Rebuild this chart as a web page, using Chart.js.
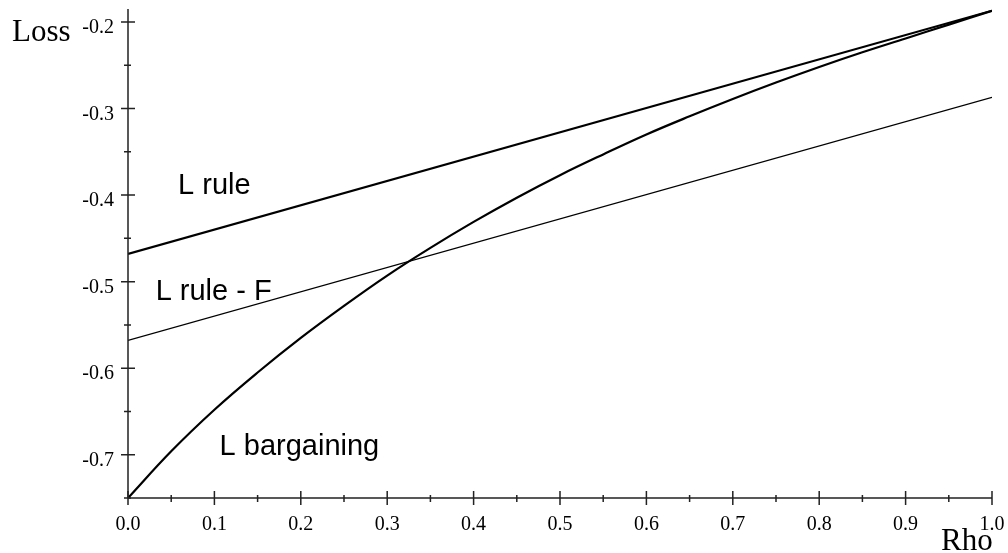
<!DOCTYPE html>
<html>
<head>
<meta charset="utf-8">
<script src="https://cdn.jsdelivr.net/npm/chart.js@4/dist/chart.umd.min.js"></script>
<style>
  html, body { margin: 0; padding: 0; background: #fff; }
  #wrap { width: 1008px; height: 553px; }
</style>
</head>
<body>
<div id="wrap"><canvas id="lossChart" width="1008" height="553"></canvas></div>
<script>
// data
var rho = [0, 0.05, 0.1, 0.15, 0.2, 0.25, 0.3, 0.35, 0.4, 0.45, 0.5,
           0.55, 0.6, 0.65, 0.7, 0.75, 0.8, 0.85, 0.9, 0.95, 1.0];
var lBargaining = [-0.750, -0.696, -0.648, -0.605, -0.565, -0.528, -0.493, -0.461, -0.431, -0.403, -0.377,
                   -0.353, -0.330, -0.309, -0.289, -0.270, -0.252, -0.235, -0.219, -0.203, -0.187];
var rhoEnds = [0, 1.0];
var lRule = [-0.468, -0.187];
var lRuleF = [-0.568, -0.287];

var xTicks = [0, 0.1, 0.2, 0.3, 0.4, 0.5, 0.6, 0.7, 0.8, 0.9, 1.0];
var xTickLabels = ['0.0', '0.1', '0.2', '0.3', '0.4', '0.5', '0.6', '0.7', '0.8', '0.9', '1.0'];
var yTicks = [-0.7, -0.6, -0.5, -0.4, -0.3, -0.2];
var yTickLabels = ['-0.7', '-0.6', '-0.5', '-0.4', '-0.3', '-0.2'];

var curveLabels = [
    { text: 'L rule', x: 0.058, y: -0.390 },
    { text: 'L rule - F', x: 0.032, y: -0.512 },
    { text: 'L bargaining', x: 0.106, y: -0.691 }
];

function toPoints(xs, ys) {
    return xs.map(function (x, i) { return { x: x, y: ys[i] }; });
}

// axes drawn the Maple way: line through the origin, ticks crossing it
var mapleAxes = {
    id: 'mapleAxes',
    afterDraw: function (chart) {
        var ctx = chart.ctx;
        var xs = chart.scales.x, ys = chart.scales.y;
        var x0 = xs.getPixelForValue(0);
        var y0 = ys.getPixelForValue(-0.75);
        ctx.save();
        ctx.strokeStyle = '#222';
        ctx.lineWidth = 1.5;

        ctx.beginPath();
        ctx.moveTo(x0, y0);
        ctx.lineTo(xs.getPixelForValue(1.0), y0);
        ctx.moveTo(x0, y0);
        ctx.lineTo(x0, ys.getPixelForValue(-0.185));
        ctx.stroke();

        // x ticks
        ctx.beginPath();
        xTicks.forEach(function (v) {
            var p = xs.getPixelForValue(v);
            ctx.moveTo(p, y0 - 7); ctx.lineTo(p, y0 + 7);
        });
        for (var i = 0; i < xTicks.length - 1; i++) {
            var p = xs.getPixelForValue((xTicks[i] + xTicks[i + 1]) / 2);
            ctx.moveTo(p, y0 - 3); ctx.lineTo(p, y0 + 4);
        }
        // y ticks
        yTicks.forEach(function (v) {
            var p = ys.getPixelForValue(v);
            ctx.moveTo(x0 - 7, p); ctx.lineTo(x0 + 7, p);
        });
        for (var j = 0; j < yTicks.length; j++) {
            var p2 = ys.getPixelForValue(yTicks[j] - 0.05);
            ctx.moveTo(x0 - 4, p2); ctx.lineTo(x0 + 3, p2);
        }
        ctx.stroke();

        ctx.fillStyle = '#000';
        ctx.font = '20px "Liberation Serif", "Times New Roman", serif';
        ctx.textAlign = 'center';
        ctx.textBaseline = 'alphabetic';
        xTicks.forEach(function (v, k) {
            ctx.fillText(xTickLabels[k], xs.getPixelForValue(v), y0 + 32);
        });
        ctx.textAlign = 'right';
        yTicks.forEach(function (v, k) {
            ctx.fillText(yTickLabels[k], x0 - 14, ys.getPixelForValue(v) + 11);
        });

        ctx.font = '31px "Liberation Serif", "Times New Roman", serif';
        ctx.textAlign = 'left';
        ctx.fillText('Loss', 12, 41);
        ctx.fillText('Rho', 941, 550);

        ctx.font = '29px "Liberation Sans", Arial, sans-serif';
        ctx.textBaseline = 'middle';
        curveLabels.forEach(function (l) {
            ctx.fillText(l.text, xs.getPixelForValue(l.x), ys.getPixelForValue(l.y));
        });
        ctx.restore();
    }
};

document.addEventListener('DOMContentLoaded', function () {
    var ctx = document.getElementById('lossChart').getContext('2d');
    var lossChart = new Chart(ctx, {
        type: 'line',
        data: {
            datasets: [{
                label: 'L rule',
                data: toPoints(rhoEnds, lRule),
                borderColor: '#000',
                borderWidth: 2.2,
                pointRadius: 0
            }, {
                label: 'L rule - F',
                data: toPoints(rhoEnds, lRuleF),
                borderColor: '#000',
                borderWidth: 1.3,
                pointRadius: 0
            }, {
                label: 'L bargaining',
                data: toPoints(rho, lBargaining),
                borderColor: '#000',
                borderWidth: 2.2,
                pointRadius: 0,
                tension: 0.4
            }]
        },
        options: {
            responsive: false,
            animation: false,
            layout: { padding: { left: 128, right: 16, top: 9, bottom: 55 } },
            scales: {
                x: { type: 'linear', min: 0, max: 1.0, display: false },
                y: { type: 'linear', min: -0.75, max: -0.185, display: false }
            },
            plugins: {
                legend: { display: false },
                tooltip: { enabled: false }
            }
        },
        plugins: [mapleAxes]
    });
});
</script>
</body>
</html>
